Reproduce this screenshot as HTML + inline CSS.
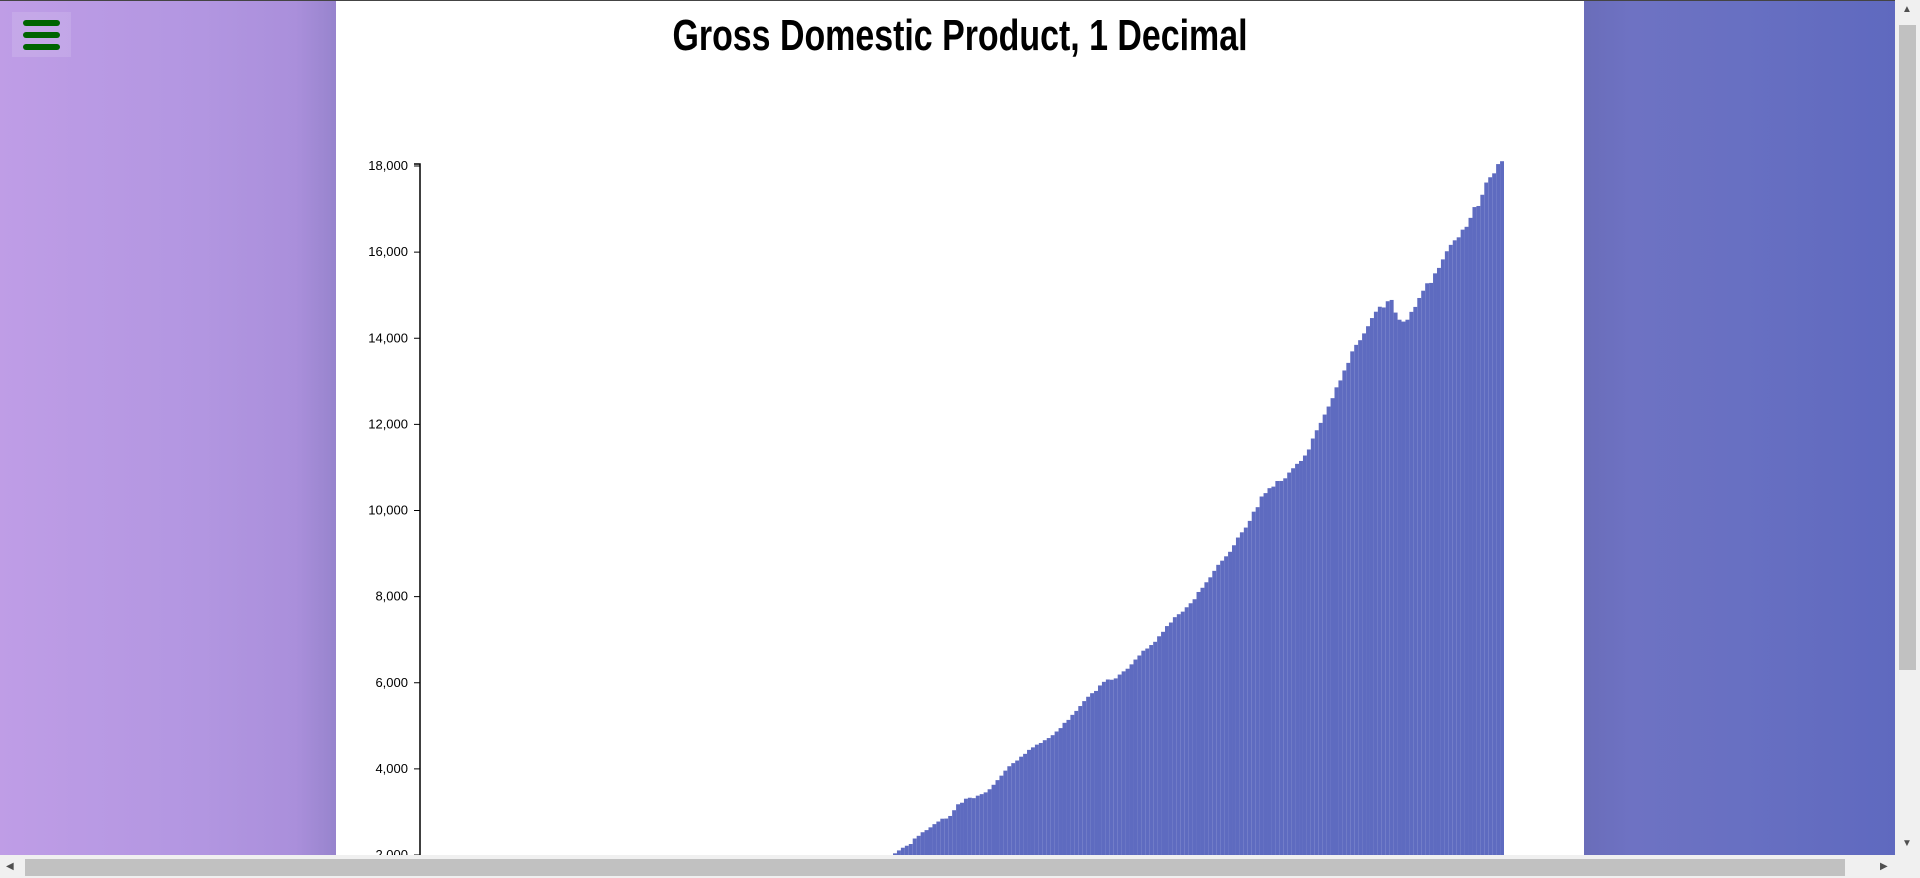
<!DOCTYPE html>
<html><head><meta charset="utf-8"><style>
html,body{margin:0;padding:0;width:1920px;height:878px;overflow:hidden;background:#fff;font-family:"Liberation Sans",sans-serif}
#left{position:absolute;left:0;top:0;width:336px;height:855px;background:linear-gradient(to right,#bf9de6 0%,#b296e1 60%,#aa8fdb 88%,#9784cd 100%)}
#right{position:absolute;left:1584px;top:0;width:311px;height:855px;background:linear-gradient(to right,#6a6db9 0%,#6e72c3 15%,#6870c2 50%,#5f69bf 100%)}
#topline{position:absolute;left:0;top:0;width:1920px;height:1px;background:#444}
#menu{position:absolute;left:12px;top:12px;width:59px;height:45px;background:rgba(255,255,255,0.12)}
#menu span{position:absolute;left:11px;width:37px;height:6px;border-radius:3px;background:#006400}
#vscroll{position:absolute;left:1895px;top:0;width:25px;height:855px;background:#f0f0f0}
#vthumb{position:absolute;left:1899px;top:25px;width:17px;height:645px;background:#c1c1c1}
#hscroll{position:absolute;left:0;top:855px;width:1920px;height:23px;background:#f0f0f0}
#hthumb{position:absolute;left:25px;top:859px;width:1820px;height:17px;background:#c1c1c1}
.arr{position:absolute;font-size:10px;color:#505050;line-height:12px}
svg{position:absolute;left:0;top:0;overflow:hidden}
</style></head><body>
<div id="left"></div>
<div id="right"></div>
<div id="topline"></div>
<div id="menu"><span style="top:8px"></span><span style="top:20px"></span><span style="top:32px"></span></div>
<svg id="chart" width="1895" height="855">
<text x="960" y="50" text-anchor="middle" textLength="575" lengthAdjust="spacingAndGlyphs" font-family="Liberation Sans, sans-serif" font-weight="bold" font-size="44" fill="#000">Gross Domestic Product, 1 Decimal</text>
</svg>
<div id="vscroll"></div>
<div id="vthumb"></div>
<div class="arr" style="left:1902px;top:4px">▲</div>
<div class="arr" style="left:1902px;top:838px">▼</div>
<div id="hscroll"></div>
<div id="hthumb"></div>
<div class="arr" style="left:6px;top:861px">◀</div>
<div class="arr" style="left:1880px;top:861px">▶</div>
<script>
const gdpValues = [
243.1,246.3,250.1,260.3, 266.2,272.9,279.5,280.7, 275.4,271.7,273.3,271.0, 281.2,290.7,308.5,320.3,
336.4,344.5,351.8,356.6, 360.2,361.4,368.1,381.2, 388.5,392.3,391.7,386.5, 385.9,386.7,391.6,400.3,
413.8,422.2,430.9,437.8, 440.5,446.8,452.0,461.3, 470.6,472.8,480.3,475.7, 468.4,472.8,486.7,500.4,
511.1,524.2,525.2,529.3, 543.3,542.7,546.0,541.1, 545.9,557.4,568.2,581.6, 595.2,602.6,609.6,613.1,
622.7,631.8,645.0,654.8, 671.1,680.8,692.8,698.4, 719.2,732.4,750.2,773.1, 797.3,807.2,820.8,834.9,
846.0,851.1,866.6,883.2, 911.1,936.3,952.3,970.1, 995.4,1011.4,1032.0,1040.7, 1053.5,1070.1,1088.5,1091.5,
1137.8,1159.4,1180.3,1193.6, 1233.8,1270.1,1293.8,1332.0, 1380.7,1417.6,1436.8,1479.1, 1494.7,1534.2,1563.4,1603.0,
1619.6,1656.4,1713.8,1765.9, 1824.5,1856.9,1890.5,1938.4, 1992.5,2060.2,2122.4,2168.7, 2208.7,2336.6,2398.9,2482.2,
2531.6,2595.9,2670.4,2730.7, 2796.5,2799.9,2860.0,2993.5, 3131.8,3167.3,3261.2,3283.5, 3273.8,3331.3,3367.1,3407.8,
3480.3,3583.8,3692.3,3796.1, 3912.8,4015.0,4087.4,4147.6, 4237.0,4302.3,4394.6,4453.1, 4516.3,4555.2,4619.6,4669.4,
4736.2,4821.5,4900.5,5022.4, 5090.6,5207.7,5299.5,5412.7, 5527.4,5628.4,5711.6,5763.4, 5890.8,5974.7,6029.5,6023.3,
6054.9,6143.6,6218.4,6279.3, 6380.8,6492.3,6586.5,6697.6, 6748.2,6829.6,6904.2,7032.8, 7136.3,7269.8,7352.3,7476.7,
7545.3,7604.9,7706.5,7799.5, 7893.1,8061.5,8159.0,8287.1, 8402.1,8551.9,8691.8,8788.3, 8889.7,8994.7,9146.5,9325.7,
9447.1,9557.0,9712.3,9926.1, 10031.0,10278.3,10357.4,10472.3, 10508.1,10638.4,10639.5,10701.3, 10834.4,10934.8,11037.1,11103.8,
11230.1,11370.7,11625.1,11816.8, 11988.4,12181.4,12367.7,12562.2, 12813.7,12974.1,13205.4,13381.6, 13648.9,13799.8,13908.5,14066.4,
14233.2,14422.3,14569.7,14685.3, 14668.4,14813.0,14843.0,14549.9, 14383.9,14340.4,14384.1,14566.5, 14681.1,14888.6,15057.7,15230.2,
15238.4,15460.9,15587.1,15785.3, 15973.9,16121.9,16227.9,16297.3, 16475.4,16541.4,16749.3,16999.9, 17025.2,17285.6,17569.4,17692.2,
17783.6,17998.3,18064.7
];
const yTickValues = [2000,4000,6000,8000,10000,12000,14000,16000,18000];
const yTickLabels = ["2,000","4,000","6,000","8,000","10,000","12,000","14,000","16,000","18,000"];

const NS = "http://www.w3.org/2000/svg";
const svg = document.getElementById('chart');
const x0 = 420, x1 = 1504;
const yTop = 164, yAt2000 = 853;
const bottom = 855;
const maxV = 18000;
const pxPer = (yAt2000 - yTop) / (maxV - 2000);
function yScale(v){ return yTop + (maxV - v) * pxPer; }
const step = (x1 - x0) / gdpValues.length;
function xScale(i){ return x0 + i * step; }

const bars = document.createElementNS(NS,'g');


svg.appendChild(bars);
gdpValues.forEach((v,i)=>{
  const y = Math.min(yScale(v), bottom);
  if (y >= bottom) return;
  const r = document.createElementNS(NS,'rect');
  r.setAttribute('x', xScale(i));
  r.setAttribute('y', y);
  r.setAttribute('width', step);
  r.setAttribute('height', bottom - y);
  r.setAttribute('fill', '#5e6bc0');
  
  
  bars.appendChild(r);
});

const axis = document.createElementNS(NS,'g');


svg.appendChild(axis);
const dom = document.createElementNS(NS,'path');
dom.setAttribute('d', `M${x0-6},${yTop}H${x0}V${bottom}`);
dom.setAttribute('stroke','#000');
dom.setAttribute('stroke-width','1.5');
dom.setAttribute('fill','none');


axis.appendChild(dom);
yTickValues.forEach((v,i)=>{
  const y = yScale(v);
  const t = document.createElementNS(NS,'line');
  t.setAttribute('x1', x0-6); t.setAttribute('x2', x0);
  t.setAttribute('y1', y+2); t.setAttribute('y2', y+2);
  t.setAttribute('stroke','#000');
  
  
  axis.appendChild(t);
  const lb = document.createElementNS(NS,'text');
  lb.setAttribute('x', x0-12);
  lb.setAttribute('y', y+6);
  lb.setAttribute('text-anchor','end');
  lb.setAttribute('font-size','13');
  lb.setAttribute('font-family','Liberation Sans, sans-serif');
  lb.setAttribute('fill','#000');
  lb.textContent = yTickLabels[i];
  
  
  axis.appendChild(lb);
});
</script>
</body></html>
